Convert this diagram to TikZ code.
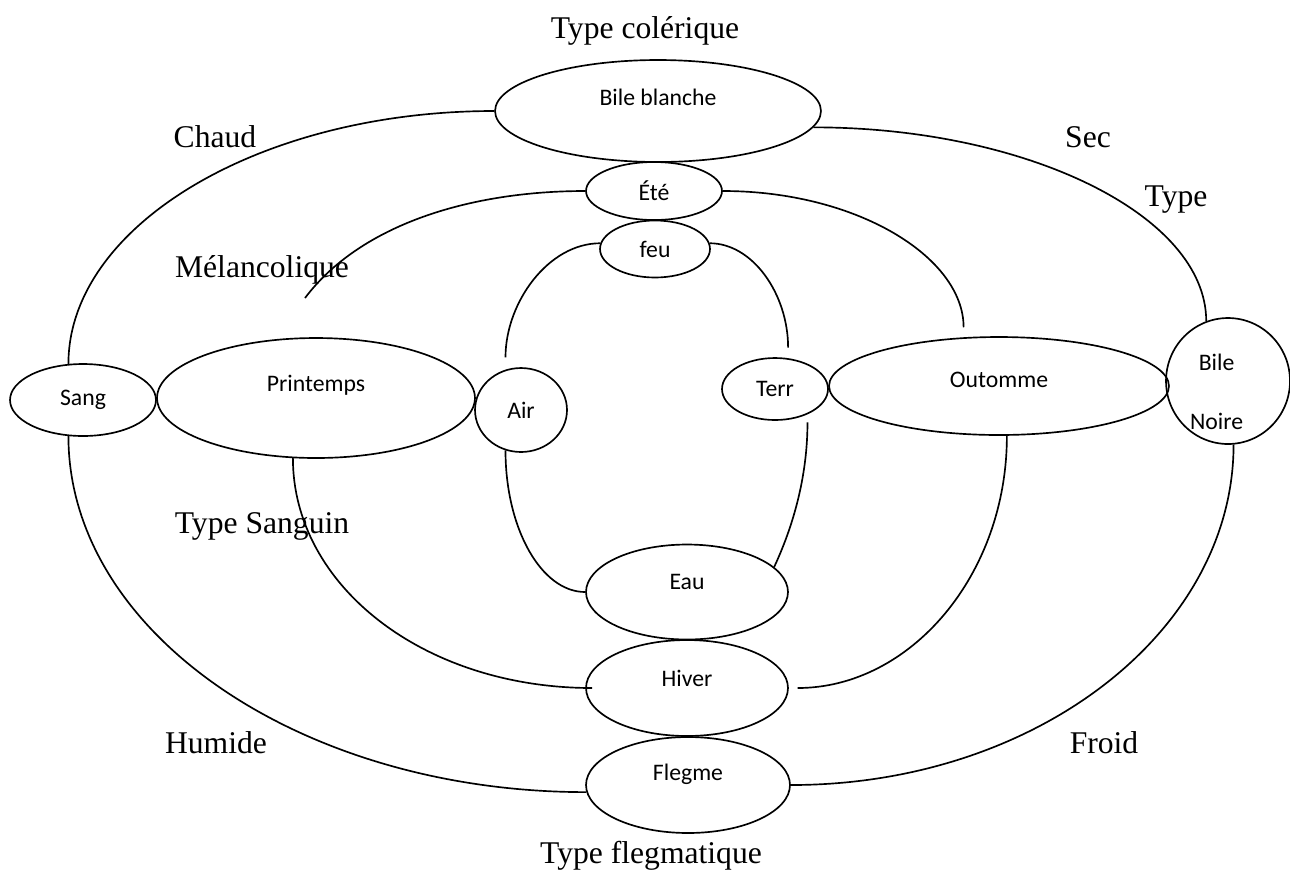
\documentclass[tikz,border=0pt]{standalone}
\usepackage{fontspec}
\setmainfont{Liberation Serif}
\newfontfamily\calibri{Carlito}
\usetikzlibrary{shapes.geometric}

\tikzset{
    humeur/.style={draw, ellipse, inner sep=0pt, font=\calibri\fontsize{13.5}{16}\selectfont},
    raised/.style={text height=8.7pt, text depth=#1},
    qualite/.style={anchor=base, font=\fontsize{18}{22}\selectfont},
}

\begin{document}
\begin{tikzpicture}[x=0.02cm, y=-0.02cm, line width=0.95pt]
            \useasboundingbox (0,0) rectangle (1290,870);
            \node[humeur, minimum width=6.52cm, minimum height=2.04cm, raised=14.8pt](bile)      at (658,111) {Bile blanche};
            \node[humeur, minimum width=2.72cm, minimum height=1.16cm]                (ete)       at (654,191) {Été};
            \node[humeur, minimum width=2.2cm,  minimum height=1.14cm]                (feu)       at (655,249) {feu};
            \node[humeur, minimum width=2.92cm, minimum height=1.44cm]                (sang)      at (83,400)  {Sang};
            \node[humeur, minimum width=6.36cm, minimum height=2.4cm, raised=16.5pt]  (printemps) at (316,398) {Printemps};
            \node[humeur, minimum width=1.84cm, minimum height=1.68cm]                (air)       at (521,410) {Air};
            \node[humeur, minimum width=2.12cm, minimum height=1.24cm]                (terre)     at (775,389) {Terr};
            \node[humeur, minimum width=6.8cm,  minimum height=1.96cm, raised=7.4pt]  (automne)   at (999,386) {Outomme};
            \node[humeur, minimum width=2.48cm, minimum height=2.52cm] (noire) at (1228,381)
                {\raisebox{-11pt}[0pt][0pt]{\begin{tabular}{@{}c@{}}Bile\\[17.5pt]Noire\end{tabular}}\hspace*{13pt}};
            \node[humeur, minimum width=4.04cm, minimum height=1.9cm,  raised=12pt]   (eau)       at (687,592) {Eau};
            \node[humeur, minimum width=4.04cm, minimum height=1.92cm, raised=10.8pt] (hiver)     at (687,688) {Hiver};
            \node[humeur, minimum width=4.08cm, minimum height=1.92cm, raised=14.2pt] (flegme)    at (688,785) {Flegme};
            \coordinate (melfin) at (305,298);

            \node[qualite](colerique)    at (645,38)  {Type colérique};
            \node[qualite](chaud)        at (215,147) {Chaud};
            \node[qualite](sec)          at (1088,147){Sec};
            \node[qualite](type)         at (1176,206){Type};
            \node[qualite](melancolique) at (262,277) {Mélancolique};
            \node[qualite](sanguin)      at (262,533) {Type Sanguin};
            \node[qualite](humide)       at (216,753) {Humide};
            \node[qualite](froid)        at (1104,753){Froid};
            \node[qualite](flegmatique)  at (651,863) {Type flegmatique};

            \path
                (bile.west)      edge [out=180, in=90,  out distance=4.7cm,  in distance=2.76cm] (sang.112)
                (bile.-6)        edge [out=0,   in=90,  out distance=4.26cm, in distance=2.12cm] (noire.110)
                (sang.248)       edge [out=-90, in=180, out distance=3.94cm, in distance=5.7cm]  (flegme.184)
                (noire.-85)      edge [out=-90, in=0,   out distance=3.74cm, in distance=4.9cm]  (flegme.east)
                (ete.west)       edge [out=180, in=53,  out distance=2.32cm, in distance=1.83cm] (melfin)
                (ete.east)       edge [out=0,   in=90,  out distance=2.68cm, in distance=1.6cm, shorten >=5.7pt] (automne.126)
                (printemps.249)  edge [out=-90, in=180, out distance=2.54cm, in distance=3.24cm, shorten >=-4pt] (hiver.west)
                (automne.-81)    edge [out=-90, in=0,   out distance=2.8cm,  in distance=2.42cm, shorten >=5pt]  (hiver.east)
                (air.111)        edge [out=90,  in=180, out distance=1.34cm, in distance=1.04cm, shorten <=7pt]  (feu.174)
                (feu.6)          edge [out=0,   in=90,  out distance=0.86cm, in distance=1.28cm, shorten >=6pt]  (terre.67)
                (air.249)        edge [out=-90, in=180, out distance=1.56cm, in distance=0.88cm] (eau.west)
                (terre.-38)      edge [out=-90, in=65,  out distance=1.32cm, in distance=0.8cm,  shorten <=4.5pt] (eau.16)
                ;
\end{tikzpicture}
\end{document}
